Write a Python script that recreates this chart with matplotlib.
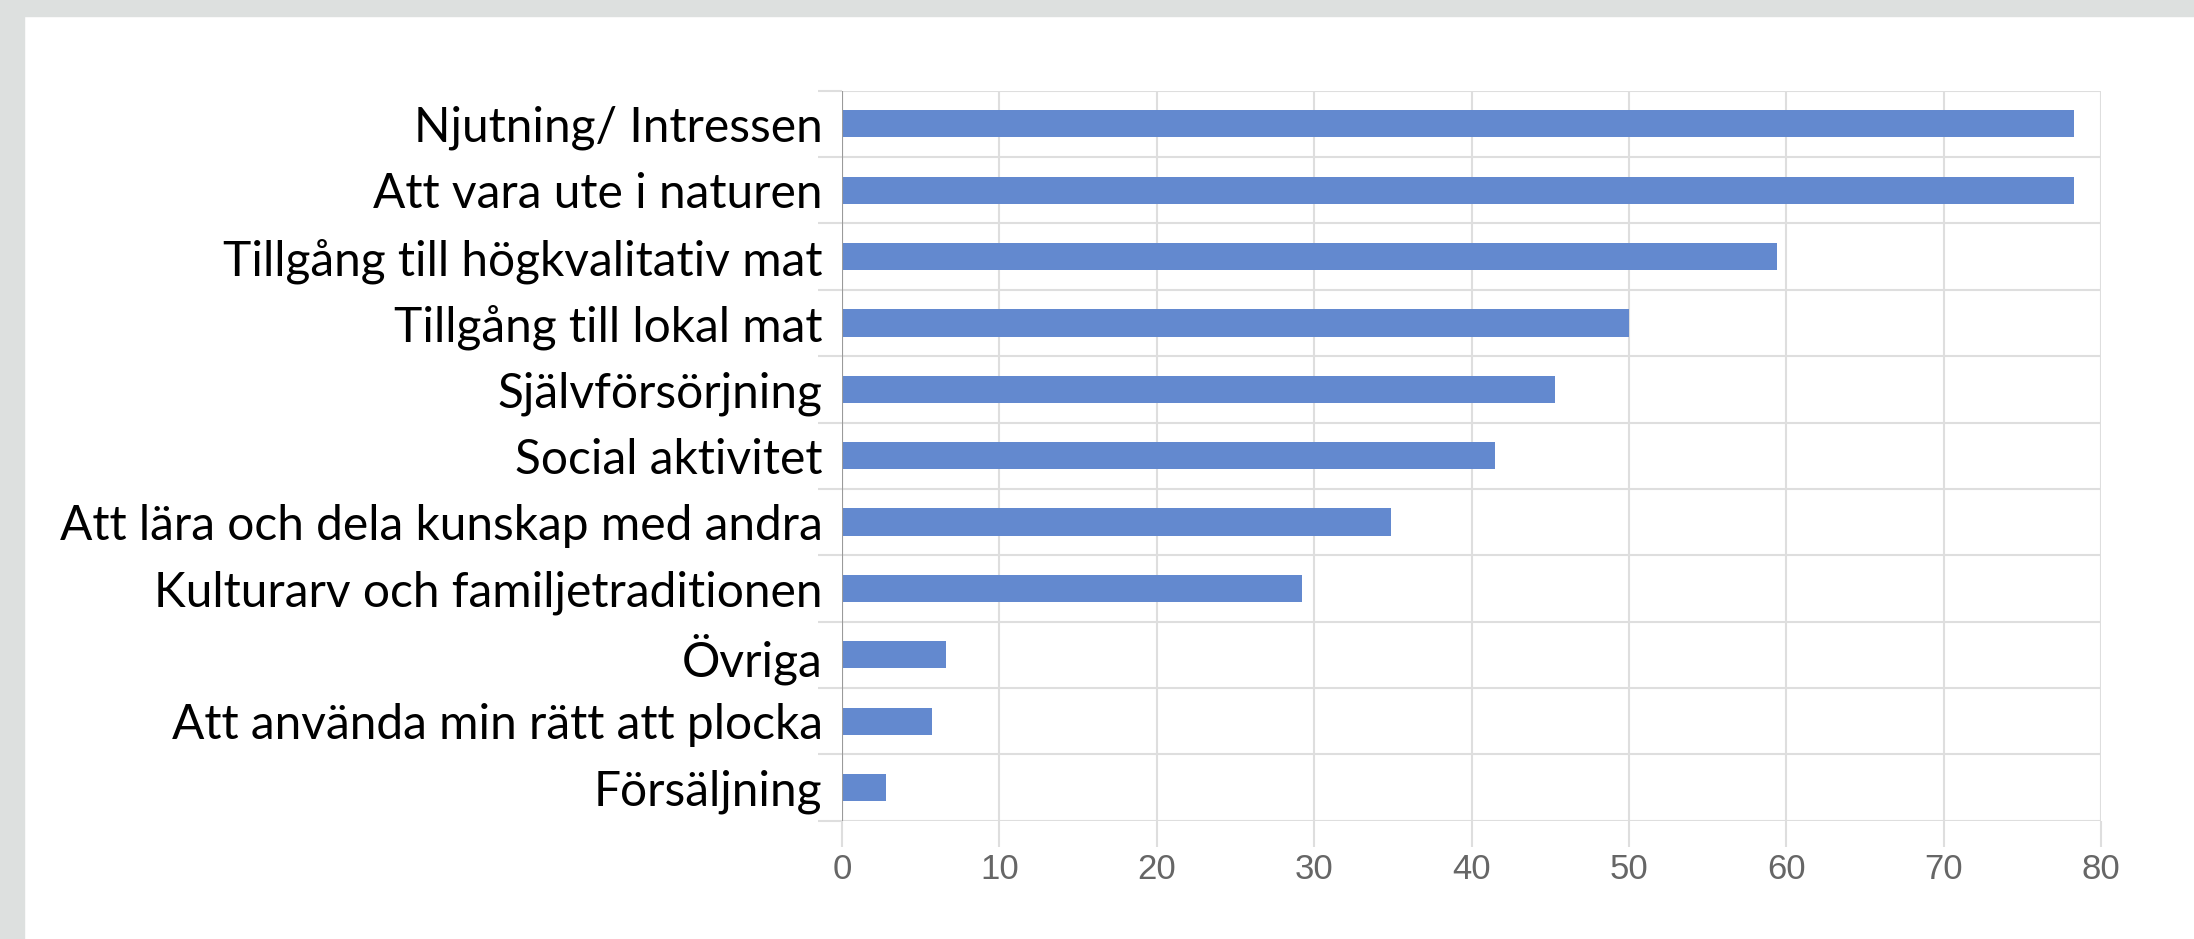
import matplotlib.pyplot as plt
import numpy as np
from matplotlib.patches import Rectangle

categories = ['Njutning/ Intressen', 'Att vara ute i naturen',
              'Tillgång till högkvalitativ mat', 'Tillgång till lokal mat',
              'Självförsörjning', 'Social aktivitet',
              'Att lära och dela kunskap med andra',
              'Kulturarv och familjetraditionen', 'Övriga',
              'Att använda min rätt att plocka', 'Försäljning']
values = [78.3, 78.3, 59.4, 50.0, 45.3, 41.5, 34.9, 29.2, 6.6, 5.7, 2.8]
xticks = [0, 10, 20, 30, 40, 50, 60, 70, 80]

W, H = 2194, 939
frame_color = '#dde0df'
bar_color = '#6389cf'
grid_color = '#dedede'

fig = plt.figure(figsize=(W / 100, H / 100), dpi=100)
fig.patch.set_facecolor('white')
# grey frame strips (top and left)
fig.patches.append(Rectangle((0, 1 - 16 / H), 1, 16 / H, transform=fig.transFigure,
                             color=frame_color, zorder=0))
fig.patches.append(Rectangle((0, 0), 24 / W, 1, transform=fig.transFigure,
                             color=frame_color, zorder=0))

left, right, top, bottom = 842, 2101, 90.7, 820.7
ax = fig.add_axes([left / W, 1 - bottom / H, (right - left) / W, (bottom - top) / H])

y = np.arange(len(categories))
ax.barh(y, values, height=0.41, color=bar_color, zorder=3)
ax.set_xlim(0, 80)
ax.set_ylim(len(categories) - 0.5, -0.5)

ax.set_xticks(xticks)
ax.set_xticklabels([str(t) for t in xticks], family='Liberation Sans')
ax.set_yticks(y)
ax.set_yticklabels(categories, fontsize=34.5, family='Lato')
ax.set_yticks(np.arange(-0.5, len(categories)), minor=True)

ax.grid(axis='x', which='major', color=grid_color, lw=1.5, zorder=1)
ax.grid(axis='y', which='minor', color=grid_color, lw=1.5, zorder=1)
ax.tick_params(axis='y', which='major', length=0, pad=14)
ax.tick_params(axis='y', which='minor', length=17, color=grid_color, width=1.5)
ax.tick_params(axis='x', length=19, color=grid_color, width=1.5,
               labelsize=25, labelcolor='#666666', pad=4)
for s in ax.spines.values():
    s.set_visible(False)

# darker zero axis
ax.axvline(0, color='#9a9a9a', lw=1.5, zorder=4)
ax.xaxis.get_major_ticks()[0].tick1line.set_color('#9a9a9a')

fig.savefig('out.png', dpi=100, facecolor=fig.get_facecolor())
